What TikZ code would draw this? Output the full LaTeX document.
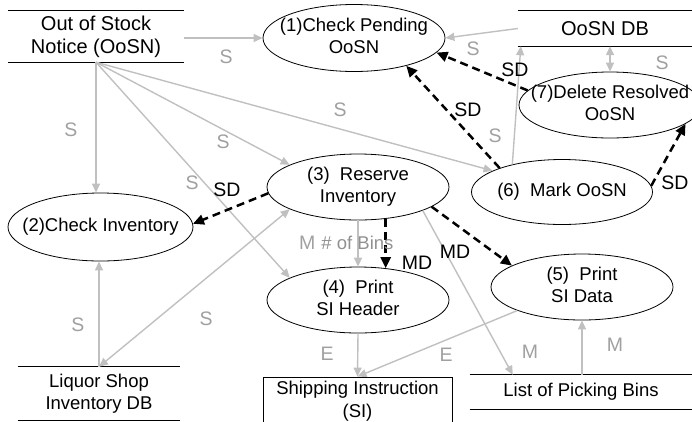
\documentclass[tikz,border=0pt]{standalone}
\usepackage{fontspec}
\setmainfont{Liberation Sans}
\usetikzlibrary{arrows.meta,shapes.geometric}
\definecolor{flowgray}{RGB}{192,192,192}
\definecolor{labgray}{RGB}{160,160,160}
\definecolor{labdark}{RGB}{145,145,145}
% text of a process bubble, kept out of the ellipse size computation
\newcommand{\bubbletext}[1]{\makebox[0pt][c]{\begin{tabular}{@{}c@{}}#1\end{tabular}}}

\begin{document}
\begin{tikzpicture}[x=1pt,y=-1pt,
  every node/.style={font=\fontsize{18.5}{22.5}\selectfont},
  bigtext/.style={font=\fontsize{20}{23}\selectfont},
  proc/.style={ellipse, draw, line width=0.8pt, inner sep=0pt},
  store/.style={inner sep=0pt, align=center},
  storeline/.style={line width=0.9pt},
  flow/.style={draw=flowgray, line width=1.4pt, -{Triangle[width=8pt,length=9pt]}},
  flowboth/.style={draw=flowgray, line width=1.4pt,
    {Triangle[width=8pt,length=9pt]}-{Triangle[width=8pt,length=9pt]}},
  ctrl/.style={draw=black, line width=2.5pt, dash pattern=on 8pt off 5pt,
    -{Triangle[width=10pt,length=11pt]}},
  glab/.style={text=labgray, inner sep=0pt, font=\fontsize{19.5}{22}\selectfont},
  blab/.style={text=black, inner sep=0pt, font=\fontsize{19.5}{22}\selectfont}]
\useasboundingbox (0,0) rectangle (692,421);
\clip (0,0) rectangle (692,421);

% data stores
\node[store, bigtext, minimum width=176pt, minimum height=51pt] (oosn) at (96,36.5) {Out of Stock\\Notice (OoSN)};
\draw[storeline] (oosn.north west) -- (oosn.north east) (oosn.south west) -- (oosn.south east);
\node[store, bigtext, minimum width=174pt, minimum height=35pt] (oosndb) at (605,28.5) {OoSN DB};
\draw[storeline] (oosndb.north west) -- (oosndb.north east) (oosndb.south west) -- (oosndb.south east);
\node[store, minimum width=162pt, minimum height=53pt] (liquor) at (99,393.5) {Liquor Shop\\Inventory DB};
\draw[storeline] (liquor.north west) -- (liquor.north east) (liquor.south west) -- (liquor.south east);
\node[store, minimum width=222pt, minimum height=34pt] (bins) at (581,392) {List of Picking Bins};
\draw[storeline] (bins.north west) -- (bins.north east) (bins.south west) -- (bins.south east);
\node[store, draw, line width=0.9pt, minimum width=189pt, minimum height=48pt] (si) at (357.5,401) {Shipping Instruction\\(SI)};

% processes
\node[proc, minimum width=182pt, minimum height=67pt] (n1) at (354,38) {\bubbletext{(1)Check Pending\\OoSN}};
\node[proc, minimum width=185pt, minimum height=68pt] (n2) at (100.5,227) {\bubbletext{(2)Check Inventory}};
\node[proc, minimum width=182pt, minimum height=66pt] (n3) at (358,187) {\bubbletext{(3)~ Reserve\\Inventory}};
\node[proc, minimum width=182pt, minimum height=66pt] (n4) at (358,300) {\bubbletext{(4)~ Print\\SI Header}};
\node[proc, minimum width=182pt, minimum height=66pt] (n5) at (582,287) {\bubbletext{(5)~ Print\\SI Data}};
\node[proc, minimum width=181pt, minimum height=65pt] (n6) at (562,192) {\bubbletext{(6)~ Mark OoSN}};
\node[proc, minimum width=182pt, minimum height=66pt] (n7) at (610,105) {\bubbletext{(7)Delete Resolved\\OoSN}};

% data flows
\draw[flow] (oosn.east |- n1.west) -- (n1.west);
\draw[flow] (oosndb.west) -- (n1.east);
\draw[flowboth] (n7.north) -- (n7.north |- oosndb.south);
\draw[flow] (n6.151) -- ([xshift=3pt]oosndb.south west);
\draw[flow] (oosn.south) -- (oosn.south |- n2.north);
\draw[flow] (oosn.south) -- (n3.162);
\draw[flow] (oosn.south) -- (n4.162);
\draw[flow] (oosn.south) -- (n6.163);
\draw[flow] (liquor.north) -- (liquor.north |- n2.south);
\draw[flowboth] (n3.-162) -- (liquor.north);
\draw[flow] (n3.south) -- (n4.north);
\draw[flow] (n3.-20) -- ([xshift=43pt]bins.north west);
\draw[flow] (bins.north -| n5.south) -- (n5.south);
\draw[flow] (n4.south) -- (si.north);
\draw[flow] (n5.-160) -- (si.north);

% control flows
\draw[ctrl] (n7.170) -- (n1.-10);
\draw[ctrl] (n6.159) -- (n1.-28);
\draw[ctrl] (n6.4) -- (n7.-14);
\draw[ctrl] (n3.184) -- (n2.2);
\draw[ctrl] (n3.-49) -- (n4.49);
\draw[ctrl] (n3.-15) -- (n5.163);

% flow labels
\node[glab] (l1) at (226,57) {S};
\node[glab] (l2) at (473,49) {S};
\node[glab] (l3) at (662,63) {S};
\node[blab] (l4) at (515,70) {SD};
\node[blab] (l5) at (468,110) {SD};
\node[glab] (l6) at (495,136) {S};
\node[blab] (l7) at (675,183) {SD};
\node[glab] (l8) at (71,130) {S};
\node[glab] (l9) at (223,142) {S};
\node[glab] (l10) at (192,183) {S};
\node[glab] (l11) at (340,110) {S};
\node[blab] (l12) at (227,190) {SD};
\node[glab] (l13) at (78,325) {S};
\node[glab] (l14) at (206,319) {S};
\node[glab, anchor=west] (l15) at (299,243) {M\hspace{6pt}{\color{labdark}\fontsize{18.5}{20}\selectfont\# of Bins}};
\node[blab] (l16) at (417,263) {MD};
\node[blab] (l17) at (455,252) {MD};
\node[glab] (l18) at (530,352) {M};
\node[glab] (l19) at (615,345) {M};
\node[glab] (l20) at (327,354) {E};
\node[glab] (l21) at (446,355) {E};
\end{tikzpicture}
\end{document}
